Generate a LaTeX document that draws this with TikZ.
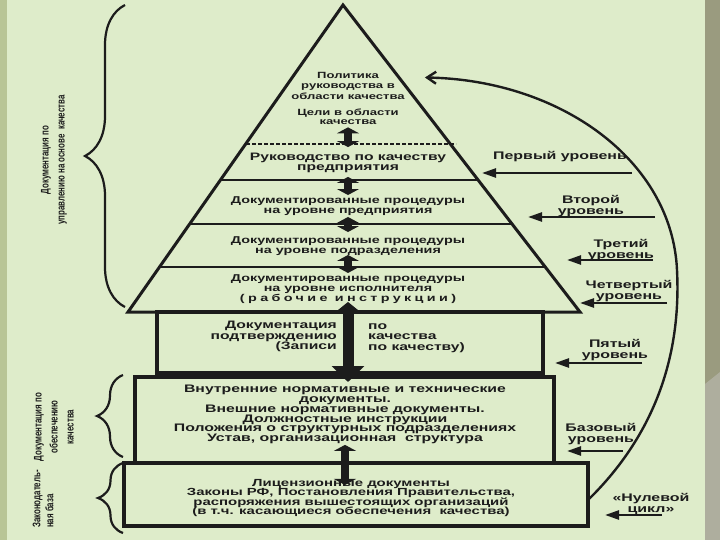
\documentclass[tikz,border=0pt]{standalone}
\usepackage{fontspec}
\newfontfamily\dgfont{Liberation Sans}[FakeStretch=1.45]
\newfontfamily\sidefont{Liberation Sans}[FakeStretch=0.72]
\usetikzlibrary{arrows.meta,positioning,decorations.pathreplacing,calc}
\definecolor{sheetgreen}{RGB}{222,236,202}
\definecolor{stripgreen}{RGB}{184,197,150}
\definecolor{stripgrey}{RGB}{154,155,127}
\definecolor{stripgreyl}{RGB}{174,174,158}
\definecolor{inkdark}{RGB}{28,28,28}
\lineskiplimit=-100pt

\begin{document}
\begin{tikzpicture}[x=1pt, y=-1pt,
  txt/.style={align=center, inner sep=0pt, text=inkdark, font=\dgfont\bfseries\fontsize{9.9}{10.5}\selectfont},
  small/.style={txt, font=\dgfont\bfseries\fontsize{9}{10.5}\selectfont},
  lvl/.style={txt, font=\dgfont\bfseries\fontsize{11}{11}\selectfont},
  side/.style={rotate=90, align=center, inner sep=0pt, text=inkdark, font=\sidefont\bfseries\fontsize{11}{16}\selectfont},
  boxline/.style={draw=inkdark, line width=3.5pt},
  tier/.style={draw=inkdark, line width=2.6pt},
  dbl/.style={draw=inkdark, line width=8pt, {Triangle[width=22pt,length=6pt]}-{Triangle[width=22pt,length=6pt]}},
  bigdbl/.style={draw=inkdark, line width=11pt, {Triangle[width=29pt,length=12pt]}-{Triangle[width=32pt,length=16pt]}},
  lvlarr/.style={draw=inkdark, line width=2.4pt, -{Triangle[length=14pt,width=9pt]}},
  brc/.style={decorate, decoration={brace, amplitude=#1}, draw=inkdark, line width=2.2pt}]
\fill[sheetgreen] (0,0) rectangle (720,540);
\fill[stripgreen] (0,0) rectangle (7,540);
\fill[stripgrey] (705,0) rectangle (720,540);
\fill[stripgreyl] (705,384) -- (720,372) -- (720,540) -- (705,540) -- cycle;
\useasboundingbox (0,0) rectangle (720,540);

\coordinate (apex) at (343,5);
\coordinate (bl) at (128,312);
\coordinate (br) at (580,312);
\draw[draw=inkdark, line width=3pt] (bl) -- (apex) -- (br) -- cycle;
\draw[draw=inkdark, line width=1.3pt, dash pattern=on 4pt off 2pt] (246,144) -- (456,144);
\foreach \yy in {180,224,267}
  \draw[tier] ({343-0.7003*(\yy-5)},\yy) -- ({343+0.772*(\yy-5)},\yy);

\node[small] (pol) at (348,85.5) {Политика\\руководства в\\области качества};
\node[small, font=\dgfont\bfseries\fontsize{9}{9}\selectfont] (cel) at (348,117.2) {Цели в области\\качества};
\node[txt, font=\dgfont\bfseries\fontsize{10.8}{10}\selectfont] (ruk) at (348,163.2) {Руководство по качеству\\предприятия};
\node[txt] (dp1) at (348,206.3) {Документированные процедуры\\на уровне предприятия};
\node[txt] (dp2) at (348,246.3) {Документированные процедуры\\на уровне подразделения};
\node[txt, font=\dgfont\bfseries\fontsize{9.9}{10}\selectfont] (dp3) at (348,289) {Документированные процедуры\\на уровне исполнителя\\{\addfontfeature{LetterSpace=34}(рабочие инструкции)}};

\draw[boxline] (157,312) rectangle (543,373);
\draw[boxline] (135,377) rectangle (554,463);
\draw[boxline] (124,463) rectangle (588,526);
\coordinate (vntop) at (344.5,377);
\coordinate (licR) at (588,500);

\node[txt, align=right, anchor=east, font=\dgfont\bfseries\fontsize{10.8}{10.5}\selectfont] (podl) at (337,336.7) {Документация\\подтверждению\\(Записи};
\node[txt, align=left, anchor=west, font=\dgfont\bfseries\fontsize{10.8}{10.5}\selectfont] (podr) at (368,337.8) {по\\качества\\по качеству)};
\node[txt, font=\dgfont\bfseries\fontsize{10.9}{9.8}\selectfont] (vnut) at (345,414.6) {Внутренние нормативные и технические\\документы.\\Внешние нормативные документы.\\Должностные инструкции\\Положения о структурных подразделениях\\Устав, организационная\ \ структура};
\node[txt, font=\dgfont\bfseries\fontsize{10.3}{9.4}\selectfont] (licn) at (351,498.2) {Лицензионные документы\\Законы РФ, Постановления Правительства,\\распоряжения вышестоящих организаций\\(в т.ч. касающиеся обеспечения\ \ качества)};

\draw[dbl] ($(cel.south)+(0,2.1)$) -- ($(ruk.north)+(0,-6.1)$);
\draw[dbl] ($(ruk.south)+(0,3.7)$) -- ($(dp1.north)+(0,-1.4)$);
\draw[dbl] ($(dp1.south)+(0,0.8)$) -- ($(dp2.north)+(0,-4.4)$);
\draw[dbl] ($(dp2.south)+(0,-1.2)$) -- ($(dp3.north)+(0,-1.4)$);
\draw[bigdbl] ($(dp3.south)+(0,-1.7)$) -- ($(dp3.south |- vntop)+(0,5)$);
\draw[dbl] ($(vnut.south)+(0,0.7)$) -- ($(vnut.south |- licn.north)+(0,5.7)$);

\node[lvl] (lv1) at (560,157) {Первый уровень};
\node[lvl] (lv2) at (591,206) {Второй\\уровень};
\node[lvl] (lv3) at (621,250) {Третий\\уровень};
\node[lvl] (lv4) at (629,291) {Четвертый\\уровень};
\node[lvl] (lv5) at (615,350) {Пятый\\уровень};
\node[lvl] (lv6) at (601,434) {Базовый\\уровень};
\node[lvl] (lv7) at (651,504) {«Нулевой\\цикл»};
\coordinate (s1) at (632,173); \coordinate (t1) at (482,173);
\coordinate (s2) at (655,217); \coordinate (t2) at (528,217);
\coordinate (s3) at (653,260); \coordinate (t3) at (567,260);
\coordinate (s4) at (667,303); \coordinate (t4) at (580,303);
\coordinate (s5) at (642,363); \coordinate (t5) at (555,363);
\coordinate (s6) at (623,451); \coordinate (t6) at (567,451);
\coordinate (s7) at (662,515); \coordinate (t7) at (605,515);
\foreach \i in {1,...,7} \draw[lvlarr] (s\i) -- (t\i);

\draw[draw=inkdark, line width=2.4pt, -{Straight Barb[length=9pt,width=12pt]}]
  (licR) .. controls (670,420) and (680,330) .. (677,270)
  .. controls (672,160) and (560,80) .. ([xshift=20pt,yshift=8pt]pol.east);

\draw[brc=40pt] (125,307) -- (125,5);
\draw[brc=26pt] (123,457) -- (123,375);
\draw[brc=25pt] (123,533) -- (123,463);
\node[side] (docup) at (54,160) {Документация по\\управлению на основе\ \ качества};
\node[side] (docob) at (54,427) {Документация по\\обеспечению\\качества};
\node[side, align=left, font=\sidefont\bfseries\fontsize{11}{13}\selectfont] (zak) at (43,499) {Законодатель-\\ная база};
\end{tikzpicture}
\end{document}
